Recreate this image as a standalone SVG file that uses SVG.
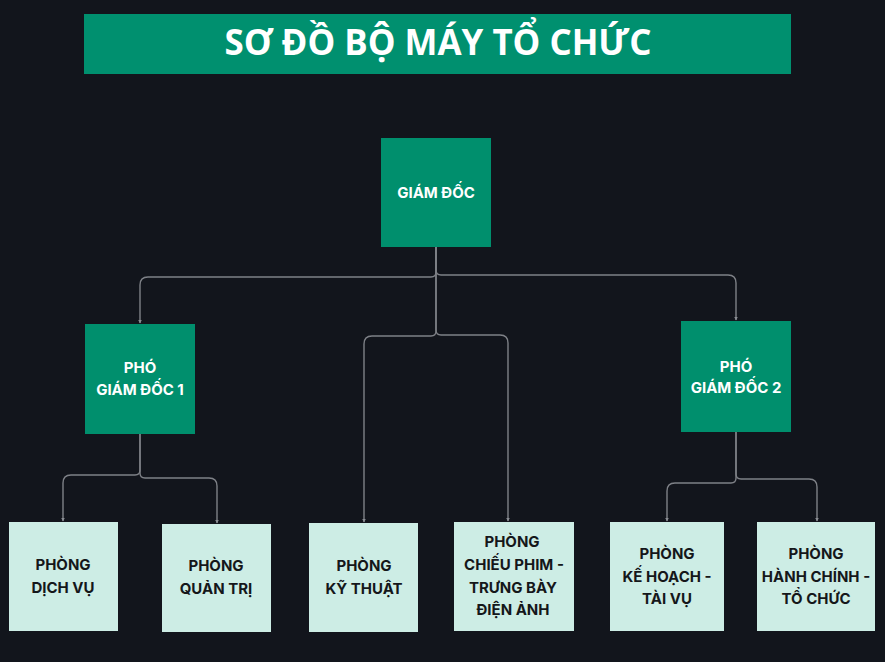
<svg xmlns="http://www.w3.org/2000/svg" width="885" height="662" viewBox="0 0 885 662">
  <defs>
    <style>
      .bg { fill: #12151c; }
      .dark { fill: #008f6d; }
      .light { fill: #cdede5; }
      .title { font-family: "Open Sans", "Liberation Sans", sans-serif; font-weight: 700; font-size: 36px; fill: #ffffff; text-anchor: middle; }
      .wt { font-family: Inter, "Liberation Sans", sans-serif; font-weight: 700; font-size: 15px; fill: #ffffff; text-anchor: middle; }
      .bt { font-family: Inter, "Liberation Sans", sans-serif; font-weight: 700; font-size: 15px; fill: #15171a; text-anchor: middle; }
      .link { fill: none; stroke: #7e8187; stroke-width: 1.4; marker-end: url(#arrow); }
    </style>
    <marker id="arrow" viewBox="0 0 8 8" refX="7" refY="4" markerWidth="4" markerHeight="4" orient="auto" markerUnits="userSpaceOnUse">
      <path d="M0,0 L8,4 L0,8 Z" fill="#8a8d93"/>
    </marker>
  </defs>

  <rect class="bg" x="0" y="0" width="885" height="662"/>

  <!-- heading banner -->
  <g id="title">
    <rect x="84" y="14" width="707" height="60" fill="#00906f"/>
    <text class="title" x="438" y="55" textLength="427" lengthAdjust="spacingAndGlyphs">SƠ ĐỒ BỘ MÁY TỔ CHỨC</text>
  </g>

  <!-- connectors -->
  <g id="connectors">
    <path class="link" d="M436,247 V272 Q436,277 431,277 H148 Q140,277 140,285 V323"/>
    <path class="link" d="M436,247 V270 Q436,275 441,275 H728 Q736,275 736,283 V320"/>
    <path class="link" d="M436,247 V331 Q436,336 431,336 H372 Q364,336 364,344 V522"/>
    <path class="link" d="M436,247 V330 Q436,335 441,335 H500 Q508,335 508,343 V521"/>
    <path class="link" d="M140,434 V470 Q140,475 135,475 H71 Q63,475 63,483 V521"/>
    <path class="link" d="M140,434 V473 Q140,478 145,478 H209 Q217,478 217,486 V523"/>
    <path class="link" d="M736,432 V478 Q736,483 731,483 H675 Q667,483 667,491 V521"/>
    <path class="link" d="M736,432 V474 Q736,479 741,479 H809 Q817,479 817,487 V521"/>
  </g>

  <g id="giam-doc">
    <rect class="dark" x="381" y="138" width="110" height="109"/>
    <text class="wt" x="436" y="198">GIÁM ĐỐC</text>
  </g>

  <g id="pho-giam-doc-1">
    <rect class="dark" x="85" y="324" width="110" height="110"/>
    <text class="wt" x="140" y="373">PHÓ</text>
    <text class="wt" x="140" y="395">GIÁM ĐỐC 1</text>
  </g>

  <g id="pho-giam-doc-2">
    <rect class="dark" x="681" y="321" width="110" height="111"/>
    <text class="wt" x="736" y="372">PHÓ</text>
    <text class="wt" x="736" y="393">GIÁM ĐỐC 2</text>
  </g>

  <g id="phong-dich-vu">
    <rect class="light" x="9" y="522" width="109" height="109"/>
    <text class="bt" x="63" y="570">PHÒNG</text>
    <text class="bt" x="63" y="593">DỊCH VỤ</text>
  </g>

  <g id="phong-quan-tri">
    <rect class="light" x="162" y="524" width="109" height="108"/>
    <text class="bt" x="216" y="571">PHÒNG</text>
    <text class="bt" x="216" y="594">QUẢN TRỊ</text>
  </g>

  <g id="phong-ky-thuat">
    <rect class="light" x="309" y="523" width="109" height="109"/>
    <text class="bt" x="364" y="571">PHÒNG</text>
    <text class="bt" x="364" y="594">KỸ THUẬT</text>
  </g>

  <g id="phong-chieu-phim">
    <rect class="light" x="454" y="522" width="120" height="109"/>
    <text class="bt" x="512" y="547">PHÒNG</text>
    <text class="bt" x="514" y="570">CHIẾU PHIM -</text>
    <text class="bt" x="513" y="593">TRƯNG BÀY</text>
    <text class="bt" x="513" y="615">ĐIỆN ẢNH</text>
  </g>

  <g id="phong-ke-hoach">
    <rect class="light" x="610" y="522" width="114" height="109"/>
    <text class="bt" x="667" y="559">PHÒNG</text>
    <text class="bt" x="667" y="582">KẾ HOẠCH -</text>
    <text class="bt" x="667" y="604">TÀI VỤ</text>
  </g>

  <g id="phong-hanh-chinh">
    <rect class="light" x="757" y="522" width="118" height="109"/>
    <text class="bt" x="816" y="559">PHÒNG</text>
    <text class="bt" x="816" y="582">HÀNH CHÍNH -</text>
    <text class="bt" x="816" y="604">TỔ CHỨC</text>
  </g>
</svg>
